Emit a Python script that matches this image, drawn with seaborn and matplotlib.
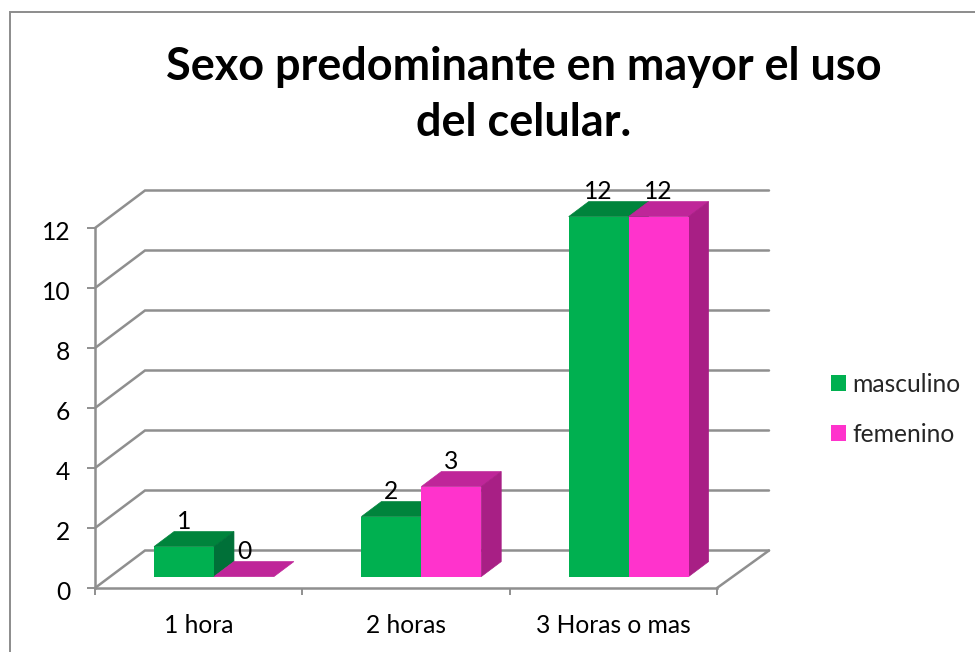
import matplotlib
matplotlib.use("Agg")
import matplotlib.pyplot as plt
from matplotlib.patches import Polygon, Rectangle
from matplotlib.transforms import Affine2D
from matplotlib.lines import Line2D
import pandas as pd
import seaborn as sns

categories = ["1 hora", "2 horas", "3 Horas o mas"]
masculino = [1, 2, 12]
femenino = [0, 3, 12]
series_names = ["masculino", "femenino"]
y_ticks = [0, 2, 4, 6, 8, 10, 12]
title = "Sexo predominante en mayor el uso\ndel celular."

W, H = 975, 652
AX_L, AX_R, AX_T, AX_B = 95, 717, 228, 588
PX_X = 3 / (AX_R - AX_L)      # data units per pixel, x
PX_Y = 12 / (AX_B - AX_T)     # data units per pixel, y

GRID = "#8f8f8f"
FS = 17.7
front = {"masculino": "#00B050", "femenino": "#FF33CC"}
topc = {"masculino": "#00843C", "femenino": "#BF2699"}
side = {"masculino": "#007038", "femenino": "#A81F85"}

sns.set_theme(style="white")
plt.rcParams["font.family"] = ["Lato", "DejaVu Sans"]

fig = plt.figure(figsize=(W / 100, H / 100), dpi=100)
ax = fig.add_axes([AX_L / W, 1 - AX_B / H, (AX_R - AX_L) / W, (AX_B - AX_T) / H])

df = pd.DataFrame({
    "cat": categories * 2,
    "sexo": [series_names[0]] * 3 + [series_names[1]] * 3,
    "n": masculino + femenino,
})
sns.barplot(data=df, x="cat", y="n", hue="sexo", hue_order=series_names,
            palette=front, saturation=1, width=0.578, gap=0, legend=False,
            ax=ax, linewidth=0)
ax.set_xlim(-0.5, 2.5)
ax.set_ylim(0, 12)

# 3D look: bars stand a bit behind the front axis plane; walls further back
shift = Affine2D().translate(15.3 * PX_X, 11.4 * PX_Y) + ax.transData
DX, DY = 20 * PX_X, 15 * PX_Y          # bar depth
WXL, WXR, WY = 50 * PX_X, 52 * PX_X, 37.5 * PX_Y   # wall depth

x0, x1 = ax.get_xlim()
for v in y_ticks:
    ax.add_line(Line2D([x0, x0 + WXL, x1 + WXR], [v, v + WY, v + WY], color=GRID,
                       lw=1.8, clip_on=False, zorder=1, solid_joinstyle="miter"))
ax.add_line(Line2D([x1, x1 + WXR], [0, WY], color=GRID, lw=1.8, clip_on=False, zorder=1))

bars = list(ax.patches)
names = [series_names[0]] * 3 + [series_names[1]] * 3
values = masculino + femenino
for i, (bar, name, val) in enumerate(zip(bars, names, values)):
    z = 5 + (i % 3) * 3 + (0 if i < 3 else 1.5)
    a, b, h = bar.get_x(), bar.get_x() + bar.get_width(), bar.get_height()
    bar.set_transform(shift)
    bar.set_clip_on(False)
    bar.set_zorder(z + 1)
    ax.add_patch(Polygon([(a, h), (b, h), (b + DX, h + DY), (a + DX, h + DY)],
                         closed=True, fc=topc[name], ec=topc[name], lw=0.5, transform=shift,
                         clip_on=False, zorder=z))
    if h > 0:
        ax.add_patch(Polygon([(b, 0), (b + DX, DY), (b + DX, h + DY), (b, h)],
                             closed=True, fc=side[name], ec=side[name], lw=0.5, transform=shift,
                             clip_on=False, zorder=z))
    ax.text((a + b) / 2, h + DY + 10 * PX_Y, str(val), transform=shift, ha="center",
            va="center", fontsize=FS, color="black", zorder=30, clip_on=False)

for s in ["top", "right"]:
    ax.spines[s].set_visible(False)
for s in ["left", "bottom"]:
    ax.spines[s].set_color(GRID)
    ax.spines[s].set_linewidth(1.8)
    ax.spines[s].set_zorder(2)

ax.set_xticks([-0.5, 0.5, 1.5, 2.5], labels=[])
ax.set_xticks([0, 1, 2], labels=categories, minor=True)
ax.set_yticks(y_ticks)
ax.set_xlabel("")
ax.set_ylabel("")
ax.tick_params(axis="x", which="major", length=5, width=1.4, color=GRID, bottom=True)
ax.tick_params(axis="x", which="minor", length=0, pad=19, labelsize=FS, labelcolor="black")
ax.tick_params(axis="y", length=5.8, width=1.4, color=GRID, left=True, pad=12,
               labelsize=FS, labelcolor="black")
for lab in ax.get_yticklabels():
    lab.set_transform(lab.get_transform() + Affine2D().translate(0, -2))

fig.text(524 / W, 1 - 67 / H, title.split("\n")[0], ha="center", va="center",
         fontsize=32.4, fontweight="bold", color="black")
fig.text(524 / W, 1 - 123 / H, title.split("\n")[1], ha="center", va="center",
         fontsize=32.4, fontweight="bold", color="black")

handles = [Rectangle((0, 0), 1, 1, fc=front[n], ec="none") for n in series_names]
fig.legend(handles, series_names, loc="upper left",
           bbox_to_anchor=(831 / W, 1 - 373 / H), bbox_transform=fig.transFigure,
           frameon=False, fontsize=FS, handlelength=0.61, handleheight=0.61,
           handletextpad=0.25, labelspacing=1.1, borderpad=0, borderaxespad=0)

fig.add_artist(Rectangle((9.5 / W, -0.01), 1.01, 1.01 - 12 / H,
                         transform=fig.transFigure, fc="none", ec="#8c8c8c", lw=1.4))
fig.savefig("out.png", dpi=100)
